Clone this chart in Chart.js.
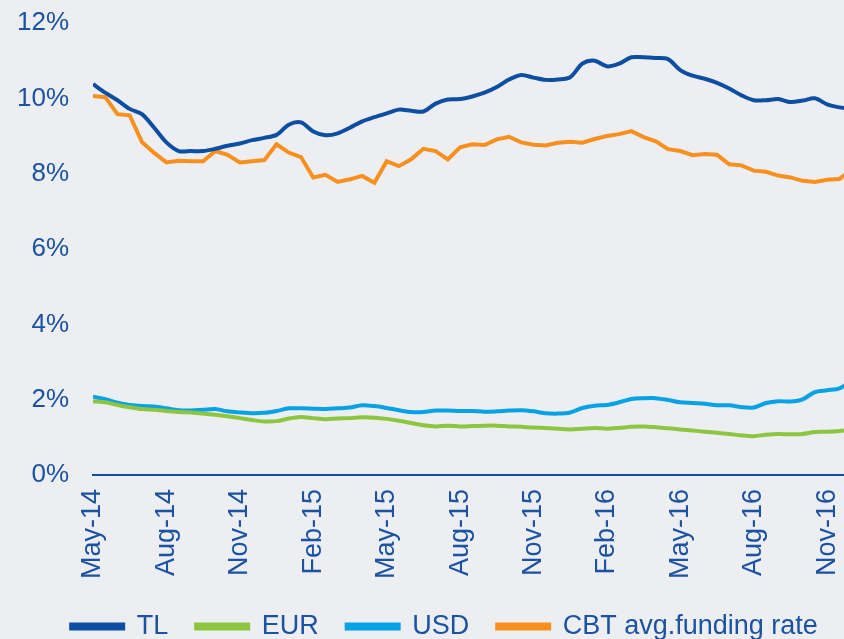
<!DOCTYPE html>
<html lang="en">
<head>
  <meta charset="UTF-8" />
  <title>Loan rates - TL, EUR, USD and CBT funding</title>
  <script src="https://cdn.jsdelivr.net/npm/chart.js"></script>
  <style>
    html, body { margin: 0; padding: 0; background: #eceef1; }
    canvas { display: block; }
  </style>
</head>
<body>
  <canvas id="rateChart" width="844" height="639"></canvas>

  <script>
    // readings every half month, starting May-14
    const stepMonths = 0.5;

    const tickMonths = [0, 3, 6, 9, 12, 15, 18, 21, 24, 27, 30];
    const tickLabels = ['May-14', 'Aug-14', 'Nov-14', 'Feb-15', 'May-15', 'Aug-15',
                        'Nov-15', 'Feb-16', 'May-16', 'Aug-16', 'Nov-16'];

    const tl = [10.38, 10.15, 9.95, 9.72, 9.58, 9.22, 8.83, 8.60, 8.60, 8.60,
                8.66, 8.74, 8.80, 8.89, 8.95, 9.03, 9.30, 9.36, 9.12, 9.02,
                9.07, 9.22, 9.39, 9.50, 9.60, 9.70, 9.67, 9.65, 9.86, 9.97,
                9.98, 10.05, 10.15, 10.30, 10.50, 10.62, 10.55, 10.49, 10.50, 10.56,
                10.92, 11.00, 10.85, 10.92, 11.09, 11.09, 11.07, 11.04, 10.75, 10.60,
                10.52, 10.41, 10.26, 10.08, 9.95, 9.95, 9.98, 9.90, 9.94, 10.00,
                9.84, 9.76, 9.72];

    const eur = [1.96, 1.93, 1.86, 1.80, 1.75, 1.73, 1.70, 1.67, 1.66, 1.63,
                 1.60, 1.56, 1.51, 1.46, 1.42, 1.43, 1.50, 1.54, 1.51, 1.48,
                 1.50, 1.51, 1.53, 1.52, 1.49, 1.44, 1.38, 1.32, 1.29, 1.31,
                 1.29, 1.30, 1.31, 1.31, 1.29, 1.28, 1.26, 1.25, 1.23, 1.21,
                 1.23, 1.25, 1.23, 1.25, 1.28, 1.29, 1.27, 1.24, 1.21, 1.18,
                 1.15, 1.12, 1.09, 1.05, 1.03, 1.07, 1.09, 1.08, 1.09, 1.14,
                 1.15, 1.17, 1.20];

    const usd = [2.08, 2.01, 1.92, 1.86, 1.83, 1.82, 1.77, 1.72, 1.71, 1.73,
                 1.75, 1.69, 1.66, 1.64, 1.65, 1.70, 1.77, 1.77, 1.76, 1.75,
                 1.77, 1.79, 1.85, 1.83, 1.78, 1.72, 1.67, 1.67, 1.71, 1.71,
                 1.70, 1.70, 1.68, 1.69, 1.71, 1.72, 1.69, 1.64, 1.63, 1.66,
                 1.78, 1.84, 1.86, 1.93, 2.02, 2.04, 2.04, 1.99, 1.93, 1.91,
                 1.89, 1.85, 1.85, 1.80, 1.79, 1.91, 1.96, 1.95, 2.01, 2.20,
                 2.25, 2.30, 2.50];

    const cbt = [10.06, 10.03, 9.58, 9.55, 8.84, 8.55, 8.30, 8.34, 8.33, 8.33,
                 8.60, 8.50, 8.30, 8.33, 8.36, 8.78, 8.56, 8.44, 7.90, 7.97,
                 7.78, 7.85, 7.94, 7.76, 8.33, 8.20, 8.38, 8.66, 8.60, 8.38,
                 8.70, 8.78, 8.76, 8.91, 8.98, 8.83, 8.77, 8.75, 8.82, 8.85,
                 8.82, 8.92, 9.00, 9.05, 9.13, 8.97, 8.86, 8.65, 8.60, 8.49,
                 8.52, 8.50, 8.25, 8.22, 8.08, 8.05, 7.95, 7.90, 7.81, 7.78,
                 7.84, 7.86, 8.10];

    const textColor = '#1b52a2';
    const family = 'Liberation Sans, Arial, sans-serif';

    function toPoints(values) {
      return values.map((v, i) => ({ x: i * stepMonths, y: v }));
    }

    function series(label, values, color, tension) {
      return {
        label: label,
        data: toPoints(values),
        borderColor: color,
        backgroundColor: color,
        borderWidth: 4,
        pointRadius: 0,
        tension: tension,
        fill: false
      };
    }

    const ctx = document.getElementById('rateChart').getContext('2d');

    // the picture is cut off at the right edge, so the x range stops mid-December
    new Chart(ctx, {
      type: 'line',
      data: {
        datasets: [
          series('TL', tl, '#0b4ea2', 0.3),
          series('EUR', eur, '#8cc63e', 0.3),
          series('USD', usd, '#05a2e6', 0.3),
          series('CBT avg.funding rate', cbt, '#f7901e', 0)
        ]
      },
      options: {
        responsive: false,
        animation: false,
        layout: { padding: { left: 17, right: -28, top: 23, bottom: -11 } },
        scales: {
          x: {
            type: 'linear',
            min: 0,
            max: 30.69,
            grid: { display: false, drawTicks: false },
            border: { color: '#0e4fa1', width: 2 },
            afterBuildTicks: axis => { axis.ticks = tickMonths.map(v => ({ value: v })); },
            afterFit: axis => {
              axis.paddingLeft = 0;
              axis.paddingRight = 0;
              axis.height = 110;
            },
            ticks: {
              autoSkip: false,
              minRotation: 90,
              maxRotation: 90,
              padding: 14,
              color: textColor,
              font: { family: family, size: 27 },
              callback: v => tickLabels[tickMonths.indexOf(v)]
            }
          },
          y: {
            min: 0,
            max: 12,
            grid: { display: false, drawTicks: false },
            border: { display: false },
            afterFit: axis => {
              axis.paddingTop = 0;
              axis.paddingBottom = 0;
              axis.width = 76;
            },
            ticks: {
              stepSize: 2,
              padding: 24,
              color: textColor,
              font: { family: family, size: 26 },
              callback: v => v + '%'
            }
          }
        },
        plugins: {
          legend: {
            position: 'bottom',
            labels: {
              boxWidth: 52,
              boxHeight: 4,
              padding: 28,
              color: textColor,
              font: { family: family, size: 27 }
            }
          },
          tooltip: { enabled: false }
        }
      }
    });
  </script>
</body>
</html>
